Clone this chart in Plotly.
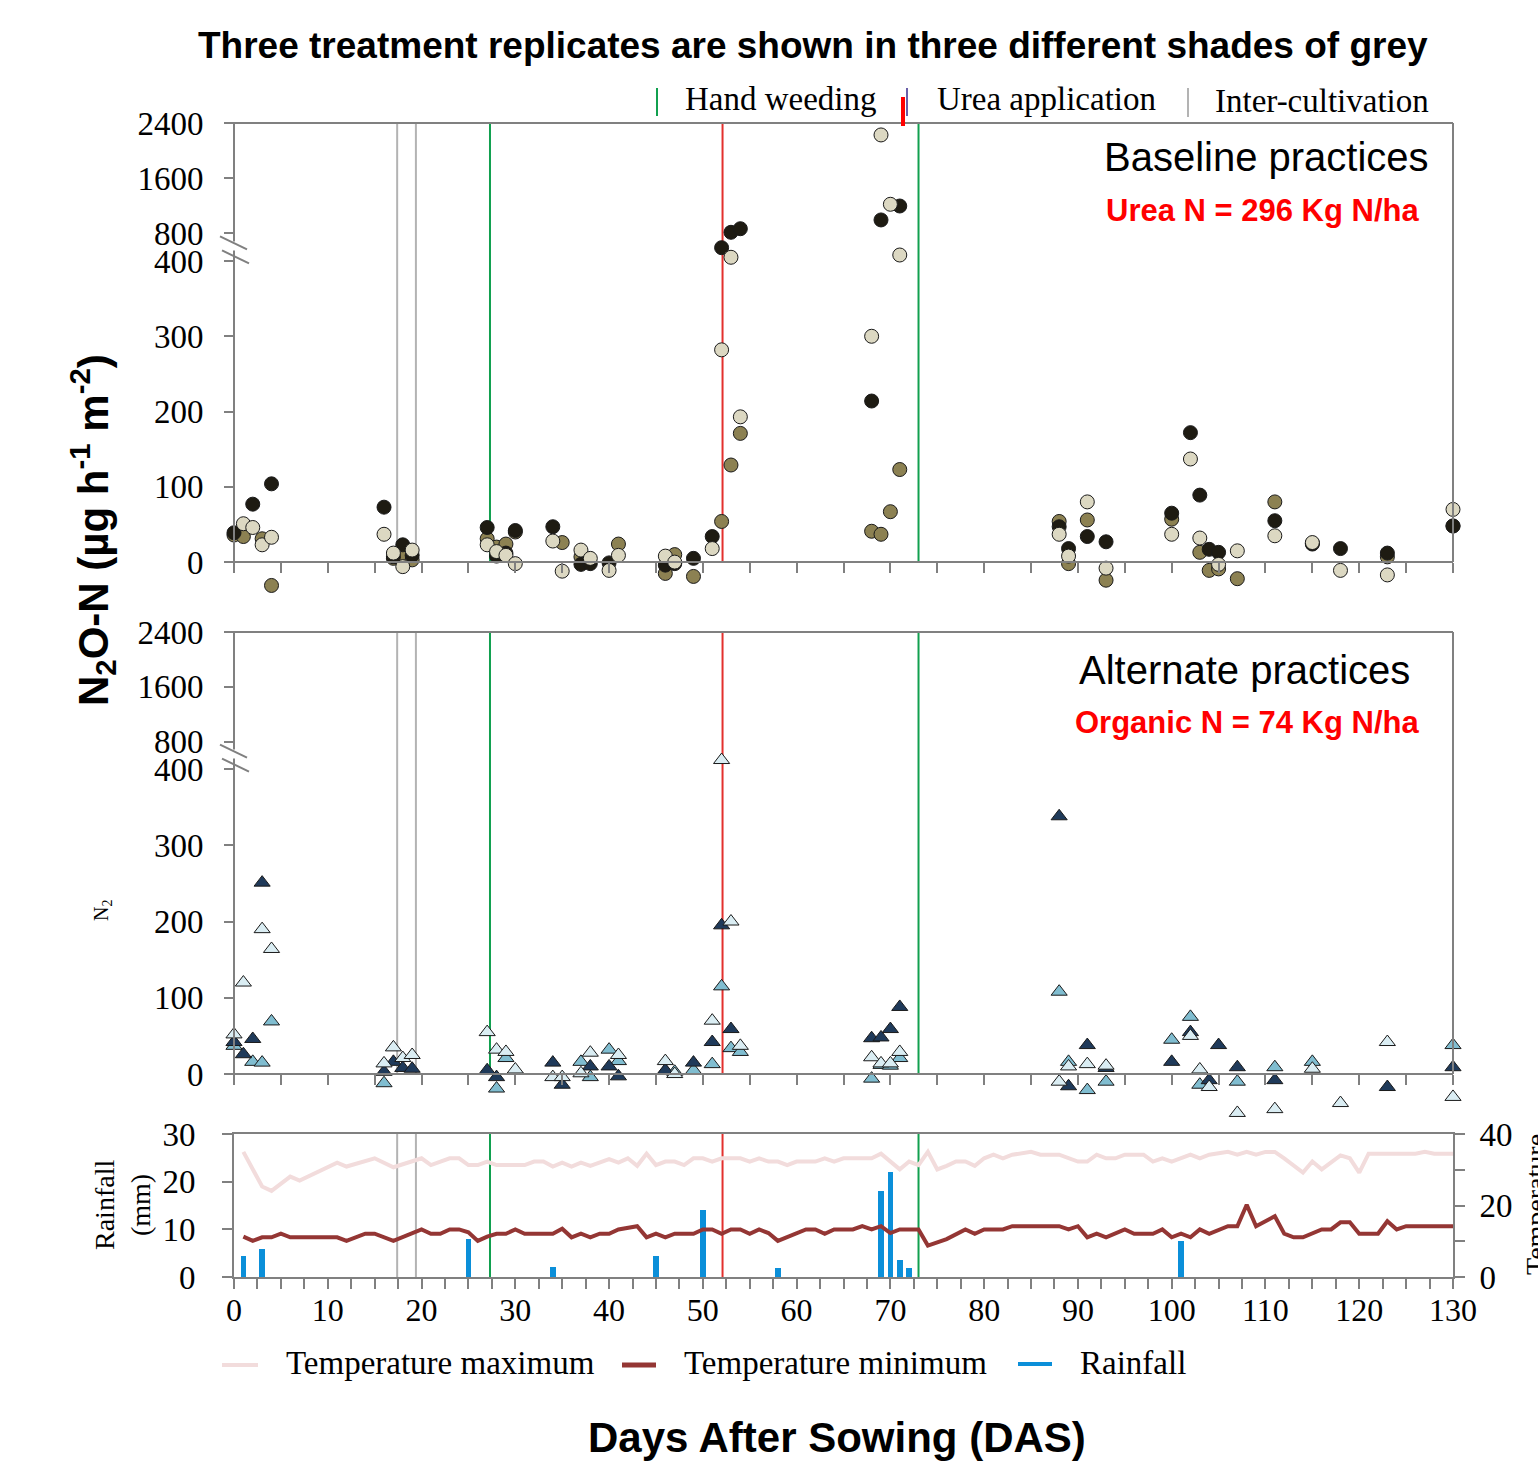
import plotly.graph_objects as go

# ---------------- data ----------------
# Baseline practices (circles), three replicates
base_dark_days = [0, 2, 4, 16, 17, 18, 19, 27, 28, 29, 30, 34, 37, 38, 40, 46, 47, 49, 51, 52, 53, 54,
                  68, 69, 71, 88, 89, 91, 93, 100, 102, 103, 104, 105, 111, 115, 118, 123, 130]
base_dark_vals = [39, 77, 104, 73, 7, 23, 9, 46, 8, 12, 42, 47, -3, -2, -1, -4, -2, 5, 34, 593, 816, 868,
                  214, 995, 1197, 47, 18, 34, 27, 65, 172, 89, 17, 13, 55, 24, 18, 12, 48]
base_olive_days = [0, 1, 3, 4, 17, 18, 19, 27, 28, 29, 30, 35, 37, 41, 46, 47, 49, 52, 53, 54, 68, 69, 70, 71,
                   88, 89, 91, 93, 100, 103, 104, 105, 107, 111, 115, 123, 130]
base_olive_vals = [36, 34, 31, -31, 5, 7, 3, 31, 20, 24, 40, 26, 7, 24, -15, 10, -19, 54, 129, 171, 41, 37, 67, 123,
                   54, -2, 56, -24, 57, 13, -11, -9, -22, 80, 25, 7, 48]
base_light_days = [1, 2, 3, 4, 16, 17, 18, 19, 27, 28, 29, 30, 34, 35, 37, 38, 40, 41, 46, 47, 51, 52, 53, 54,
                   68, 69, 70, 71, 88, 89, 91, 93, 100, 102, 103, 105, 107, 111, 115, 118, 123, 130]
base_light_vals = [51, 46, 23, 33, 37, 12, -6, 16, 23, 14, 9, -2, 28, -12, 16, 5, -11, 9, 8, 0, 18, 282, 454, 193,
                   300, 2227, 1222, 487, 37, 8, 80, -8, 37, 137, 32, -3, 15, 35, 26, -11, -17, 70]

# Alternate practices (triangles), three replicates
alt_dark_days = [0, 1, 2, 3, 16, 17, 18, 19, 27, 28, 34, 35, 38, 40, 41, 46, 49, 51, 52, 53, 68, 69, 70, 71,
                 88, 89, 91, 93, 100, 102, 104, 105, 107, 111, 123, 130]
alt_dark_vals = [42, 26, 46, 251, 3, 16, 8, 7, 5, -4, 15, -14, 10, 10, -3, 5, 15, 42, 195, 59, 47, 48, 59, 88,
                 338, -16, 38, 8, 16, 55, -8, 38, 9, -8, -17, 9]
alt_mid_days = [0, 2, 3, 4, 16, 28, 29, 37, 38, 40, 41, 46, 47, 49, 51, 52, 53, 54, 68, 69, 70, 71,
                88, 89, 91, 93, 100, 102, 103, 107, 111, 115, 130]
alt_mid_vals = [37, 16, 15, 69, -12, -19, 21, 16, -4, 32, 17, 4, 3, 5, 13, 115, 34, 29, -6, 12, 11, 21,
                108, 16, -21, -10, 45, 75, -14, -10, 9, 16, 38]
alt_light_days = [0, 1, 3, 4, 16, 17, 18, 19, 27, 28, 29, 30, 34, 35, 37, 38, 41, 46, 47, 51, 52, 53, 54,
                  68, 69, 70, 71, 88, 89, 91, 93, 102, 103, 104, 107, 111, 115, 118, 123, 130]
alt_light_vals = [52, 120, 190, 164, 14, 35, 21, 25, 55, 32, 29, 6, -4, -4, 1, 28, 25, 17, 0, 70, 531, 200, 37,
                  22, 14, 14, 29, -10, 10, 13, 11, 50, 6, -17, -51, -46, 7, -38, 42, -30]

# Weather
rain_days = [1, 3, 25, 34, 45, 50, 58, 69, 70, 71, 72, 101]
rain_mm = [4.5, 5.8, 8, 2.2, 4.5, 14, 1.8, 18, 22, 3.6, 1.8, 7.6]

tmax_days = [1, 3, 4, 6, 7, 11, 12, 15, 17, 20, 21, 23, 24, 25, 26, 27, 28, 31, 32, 33, 34, 35, 36, 37, 38,
             39, 40, 41, 42, 43, 44, 45, 46, 47, 48, 49, 50, 51, 52, 54, 55, 56, 57, 58, 59, 60, 62, 63, 64,
             65, 68, 69, 70, 71, 72, 73, 74, 75, 76, 77, 78, 79, 80, 81, 82, 83, 85, 86, 88, 89, 90, 91, 92,
             93, 94, 95, 97, 98, 99, 100, 101, 102, 103, 104, 106, 107, 108, 109, 110, 111, 112, 114, 115,
             116, 118, 119, 120, 121, 126, 127, 128, 130]
tmax_vals = [35.0, 25.3, 24.1, 28.1, 27.0, 32.0, 30.9, 33.2, 30.7, 33.2, 31.3, 33.2, 33.2, 31.3, 31.3, 32.3,
             31.3, 31.3, 32.3, 32.3, 30.9, 32.0, 30.9, 32.0, 31.1, 32.0, 33.0, 32.0, 33.2, 31.1, 34.5, 31.3,
             32.3, 32.3, 31.3, 33.2, 33.2, 32.3, 33.2, 33.2, 32.3, 33.2, 32.3, 32.3, 31.3, 32.3, 32.3, 33.2,
             32.3, 33.2, 33.2, 34.5, 32.3, 30.1, 32.3, 31.3, 35.0, 30.1, 31.1, 32.3, 32.3, 31.1, 33.2, 34.2,
             33.2, 34.2, 35.0, 34.2, 34.2, 33.2, 32.3, 32.3, 34.2, 33.2, 33.2, 34.2, 34.2, 32.3, 33.2, 32.3,
             33.2, 34.2, 33.2, 34.2, 35.0, 34.2, 35.0, 34.2, 35.0, 35.0, 33.2, 29.2, 32.3, 30.1, 34.0, 33.2,
             29.2, 34.5, 34.5, 35.0, 34.5, 34.5]

tmin_days = [1, 2, 3, 4, 5, 6, 11, 12, 14, 15, 17, 20, 21, 22, 23, 24, 25, 26, 27, 28, 29, 30, 31, 34, 35,
             36, 37, 38, 39, 40, 41, 43, 44, 45, 46, 47, 49, 50, 51, 52, 53, 54, 55, 56, 57, 58, 61, 62, 63,
             64, 66, 67, 68, 69, 70, 71, 73, 74, 76, 78, 79, 80, 82, 83, 88, 89, 90, 91, 92, 93, 95, 96, 98,
             99, 100, 101, 102, 103, 104, 105, 106, 107, 108, 109, 111, 112, 113, 114, 116, 117, 118, 119,
             120, 122, 123, 124, 125, 130]
tmin_vals = [11.3, 10.1, 11.1, 11.1, 12.1, 11.1, 11.1, 10.1, 12.1, 12.1, 10.1, 13.3, 12.1, 12.1, 13.3, 13.3,
             12.5, 10.1, 11.3, 12.1, 12.1, 13.3, 12.1, 12.1, 13.5, 11.1, 12.1, 11.1, 12.1, 12.1, 13.3, 14.2,
             11.1, 12.1, 11.1, 12.1, 12.1, 13.3, 13.3, 12.1, 13.3, 13.3, 12.1, 13.3, 12.3, 10.1, 13.3, 13.3,
             12.1, 13.3, 13.3, 14.2, 13.3, 14.2, 12.3, 13.3, 13.3, 8.8, 10.6, 13.3, 12.1, 13.3, 13.3, 14.2,
             14.2, 13.3, 14.2, 11.1, 12.1, 11.1, 13.3, 12.1, 12.1, 13.3, 11.1, 12.1, 11.1, 13.3, 12.1, 13.3,
             14.2, 14.2, 20.2, 14.2, 17.0, 12.1, 11.1, 11.1, 13.3, 13.3, 15.3, 15.3, 12.1, 12.1, 15.6, 13.3,
             14.2, 14.2]

# Management events (DAS)
inter_cultivation_days = [17.4, 19.4]
hand_weeding_days = [27.3, 73.0]
urea_days = [52.1]

low_ticks = [0, 100, 200, 300, 400]
high_ticks = [800, 1600, 2400]
temp_ticks = [0, 20, 40]

# ---------------- layout geometry (pixels) ----------------
W, H = 1538, 1467
def px(x):
    return x / W
def py(y):
    return 1 - y / H

X0, X1 = 234, 1453
AX = '#808080'
SERIF = 'Liberation Serif'
SANS = 'Liberation Sans'

P1 = dict(zero=562, mid=261, top=123, bottom=596, lo=-45)
P2 = dict(zero=1074, mid=769, top=632, bottom=1116, lo=-55)
R_TOP, R_BOT = 1134, 1277

fig = go.Figure()

def add_reps(reps, xa, ylo, yhi, symbol, size):
    for days, vals, color in reps:
        lo = [(d, v) for d, v in zip(days, vals) if v <= 400]
        hi = [(d, v) for d, v in zip(days, vals) if v > 400]
        for pts, ya in ((lo, ylo), (hi, yhi)):
            if not pts:
                continue
            fig.add_trace(go.Scatter(
                x=[p[0] for p in pts], y=[p[1] for p in pts], mode='markers',
                xaxis=xa, yaxis=ya, cliponaxis=False, showlegend=False,
                marker=dict(symbol=symbol, size=size, color=color,
                            line=dict(color='#1a1a1a', width=1))))

add_reps([(base_olive_days, base_olive_vals, '#8c8152'),
          (base_dark_days, base_dark_vals, '#1e1b12'),
          (base_light_days, base_light_vals, '#dcd8c2')], 'x2', 'y', 'y2', 'circle', 14)
add_reps([(alt_mid_days, alt_mid_vals, '#80bdd0'),
          (alt_dark_days, alt_dark_vals, '#1f3a5a'),
          (alt_light_days, alt_light_vals, '#daedf3')], 'x3', 'y3', 'y4', 'triangle-up', 14)

fig.add_trace(go.Bar(x=rain_days, y=rain_mm, xaxis='x', yaxis='y5', width=0.6,
                     marker=dict(color='#0b8fd9', line=dict(width=0)), showlegend=False))
fig.add_trace(go.Scatter(x=tmax_days, y=tmax_vals, xaxis='x', yaxis='y6', mode='lines',
                         line=dict(color='#f2dcdc', width=4), showlegend=False))
fig.add_trace(go.Scatter(x=tmin_days, y=tmin_vals, xaxis='x', yaxis='y6', mode='lines',
                         line=dict(color='#943634', width=4), showlegend=False))

xdom = [px(X0), px(X1)]
tick_common = dict(ticks='outside', ticklen=10, tickwidth=2, tickcolor=AX, showgrid=False,
                   zeroline=False)
tickfont = dict(family=SERIF, size=33, color='black')
minor_y = dict(dtick=10, ticks='outside', ticklen=10, tickwidth=2, tickcolor=AX)

layout_axes = dict(
    xaxis=dict(domain=xdom, range=[0, 130], anchor='y5', showline=True, linecolor=AX, linewidth=2,
               mirror=True, tick0=0, dtick=10, tickfont=dict(family=SERIF, size=32, color='black'),
               ticklabelstandoff=-6,
               minor=dict(dtick=2.5, ticks='outside', ticklen=10, tickwidth=2, tickcolor=AX),
               **tick_common),
    xaxis2=dict(domain=xdom, range=[0, 130], anchor='free', position=py(P1['zero']), showline=True,
                linecolor=AX, linewidth=2, tick0=0, dtick=5, showticklabels=False, **tick_common),
    xaxis3=dict(domain=xdom, range=[0, 130], anchor='free', position=py(P2['zero']), showline=True,
                linecolor=AX, linewidth=2, tick0=0, dtick=5, showticklabels=False, **tick_common),
    yaxis=dict(domain=[py(P1['bottom']), py(P1['mid'])], range=[P1['lo'], 400], anchor='free',
               position=px(X0), tickvals=low_ticks, tickfont=tickfont, ticklabelstandoff=14,
               showline=False, **tick_common),
    yaxis2=dict(domain=[py(P1['mid']), py(P1['top'])], range=[400, 2400], anchor='free',
                position=px(X0), tickvals=high_ticks, tickfont=tickfont, ticklabelstandoff=14,
                showline=False, **tick_common),
    yaxis3=dict(domain=[py(P2['bottom']), py(P2['mid'])], range=[P2['lo'], 400], anchor='free',
                position=px(X0), tickvals=low_ticks, tickfont=tickfont, ticklabelstandoff=14,
                showline=False, **tick_common),
    yaxis4=dict(domain=[py(P2['mid']), py(P2['top'])], range=[400, 2400], anchor='free',
                position=px(X0), tickvals=high_ticks, tickfont=tickfont, ticklabelstandoff=14,
                showline=False, **tick_common),
    yaxis5=dict(domain=[py(R_BOT), py(R_TOP)], range=[0, 30], anchor='x', dtick=10, showline=True,
                linecolor=AX, linewidth=2, tickfont=tickfont, ticklabelstandoff=20, **tick_common),
    yaxis6=dict(range=[0, 40], overlaying='y5', side='right', anchor='x', showline=True,
                linecolor=AX, linewidth=2, tickvals=temp_ticks, tickfont=tickfont,
                ticklabelstandoff=8, minor=minor_y, **tick_common),
)

shapes = []
def pline(x0, y0, x1, y1, color=AX, width=2, layer='above'):
    shapes.append(dict(type='line', xref='paper', yref='paper', x0=px(x0), y0=py(y0),
                       x1=px(x1), y1=py(y1), line=dict(color=color, width=width), layer=layer))

for P in (P1, P2):
    tick800 = P['mid'] - (P['mid'] - P['top']) * 400 / 2000
    g0, g1 = tick800 + 8, tick800 + 17
    pline(X0, P['zero'], X0, g1)
    pline(X0, g0, X0, P['top'])
    pline(X0 - 14, tick800 + 3, X0 + 13, tick800 + 16)
    pline(X0 - 12, tick800 + 17, X0 + 15, tick800 + 30)
    pline(X0, P['top'], X1, P['top'])
    pline(X1, P['top'], X1, P['zero'])

events = [(inter_cultivation_days, '#b3b3b3'), (hand_weeding_days, '#11a04f'), (urea_days, '#e3302d')]
for top, bot in ((P1['top'], P1['zero']), (P2['top'], P2['zero']), (R_TOP, R_BOT)):
    for days, color in events:
        for d in days:
            shapes.append(dict(type='line', xref='x', yref='paper', x0=d, x1=d, y0=py(bot), y1=py(top),
                               line=dict(color=color, width=2), layer='below'))

# top legend marks
pline(657, 88, 657, 116, color='#11a04f', width=2)
pline(907, 88, 907, 116, color='#6a5fa8', width=2)
pline(903, 97, 903, 126, color='#ff0000', width=4)
pline(1188, 88, 1188, 117, color='#b3b3b3', width=2)
# bottom legend marks
pline(222, 1365, 258, 1365, color='#f2dcdc', width=4)
pline(622, 1365, 656, 1365, color='#943634', width=5)
pline(1018, 1364, 1052, 1364, color='#0b8fd9', width=4)

annotations = []
def ann(text, x, y, size, family=SERIF, color='black', xanchor='center', angle=0):
    annotations.append(dict(text=text, x=px(x), y=py(y), xref='paper', yref='paper', showarrow=False,
                            xanchor=xanchor, yanchor='middle', textangle=angle,
                            font=dict(family=family, size=size, color=color)))

ann('<b>Three treatment replicates are shown in three different shades of grey</b>', 813, 46, 37, SANS)
ann('Hand weeding', 683, 99, 33, xanchor='left')
ann('Urea application', 935, 99, 33, xanchor='left')
ann('Inter-cultivation', 1213, 101, 33, xanchor='left')
ann('Baseline practices', 1431, 157, 40, SANS, xanchor='right')
ann('<b>Urea N = 296 Kg N/ha</b>', 1421, 210, 31, SANS, color='#ff0000', xanchor='right')
ann('Alternate practices', 1412, 670, 40, SANS, xanchor='right')
ann('<b>Organic N = 74 Kg N/ha</b>', 1421, 722, 31, SANS, color='#ff0000', xanchor='right')
ann('<b>N<sub>2</sub>O-N (µg h<sup>-1</sup> m<sup>-2</sup>)</b>', 92, 530, 42, SANS, angle=-90)
ann('N<sub>2</sub>', 102, 911, 20, angle=-90)
ann('Rainfall<br>(mm)', 122, 1205, 28, angle=-90)
ann('Temperature', 1535, 1205, 28, angle=-90)
ann('Temperature maximum', 284, 1363, 33, xanchor='left')
ann('Temperature minimum', 682, 1363, 33, xanchor='left')
ann('Rainfall', 1078, 1363, 33, xanchor='left')
ann('<b>Days After Sowing (DAS)</b>', 837, 1437, 42, SANS)

fig.update_layout(width=W, height=H, margin=dict(l=0, r=0, t=0, b=0, autoexpand=False),
                  plot_bgcolor='white', paper_bgcolor='white', showlegend=False, bargap=0,
                  shapes=shapes, annotations=annotations, **layout_axes)

fig.write_html('out.html')
